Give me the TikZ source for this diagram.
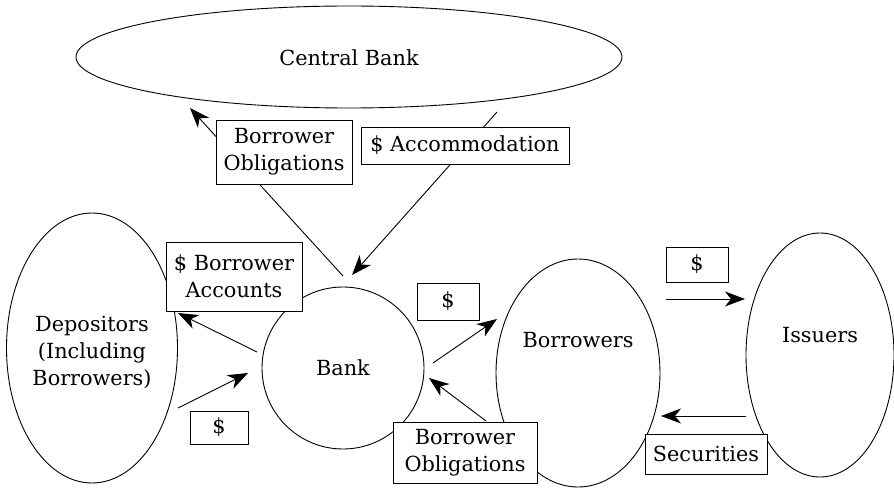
\documentclass[tikz,border=0pt]{standalone}
\usepackage{fontspec}
\setmainfont{DejaVu Serif}
\usetikzlibrary{shapes.geometric,arrows.meta}
\begin{document}
\begin{tikzpicture}[x=1pt,y=-1pt,
  every node/.style={font=\fontsize{20.8}{27}\selectfont},
  oval/.style={draw,ellipse,line width=0.9pt,inner sep=0pt,fill=white},
  lbl/.style={draw,line width=0.9pt,fill=white,inner sep=0pt,align=center},
  txt/.style={align=center,inner sep=0pt},
  arr/.style={line width=0.9pt,-{Stealth[length=20pt,width=15pt,inset=6pt]}}]
\useasboundingbox (0,0) rectangle (894,489);
% main shapes
\node[oval,minimum width=546pt,minimum height=102pt] (cb) at (349,57) {};
\node[txt] (cbt) at (349,58) {Central Bank};
\node[oval,minimum width=171pt,minimum height=270pt] (dep) at (92,348) {};
\node[txt] (dept) at (92,352) {Depositors\\(Including\\Borrowers)};
\node[draw,circle,line width=0.9pt,minimum size=162pt,inner sep=0pt] (bank) at (343,368) {};
\node[txt] (bankt) at (343,368) {Bank};
\node[oval,minimum width=164pt,minimum height=228pt] (bor) at (578,373) {};
\node[txt] (bort) at (578,340) {Borrowers};
\node[oval,minimum width=148pt,minimum height=244pt] (iss) at (820,355) {};
\node[txt] (isst) at (820,335) {Issuers};
% connector end points
\coordinate (a1s) at (343,276); \coordinate (a1e) at (190,108);
\coordinate (a2s) at (497,112); \coordinate (a2e) at (352,275);
\coordinate (a3s) at (257,352); \coordinate (a3e) at (178,313);
\coordinate (a4s) at (178,408); \coordinate (a4e) at (248,373);
\coordinate (a5s) at (433,363); \coordinate (a5e) at (497,319);
\coordinate (a6s) at (486,421); \coordinate (a6e) at (429,378);
\coordinate (a7s) at (666,299); \coordinate (a7e) at (745,299);
\coordinate (a8s) at (746,416); \coordinate (a8e) at (661,416);
\draw[arr] (a1s) -- (a1e);
\draw[arr] (a2s) -- (a2e);
\draw[arr] (a3s) -- (a3e);
\draw[arr] (a4s) -- (a4e);
\draw[arr] (a5s) -- (a5e);
\draw[arr] (a6s) -- (a6e);
\draw[arr] (a7s) -- (a7e);
\draw[arr] (a8s) -- (a8e);
% label boxes
\node[lbl,minimum width=136pt,minimum height=64pt] (bo1) at (284,152) {Borrower\\Obligations};
\node[lbl,minimum width=208pt,minimum height=37pt] (acc) at (465,145.5) {\$ Accommodation};
\node[lbl,minimum width=136pt,minimum height=69pt] (bacc) at (234,276.5) {\$ Borrower\\Accounts};
\node[lbl,minimum width=62pt,minimum height=37pt] (d1) at (448,301.5) {\$};
\node[lbl,minimum width=62pt,minimum height=35pt] (d2) at (697,264.5) {\$};
\node[lbl,minimum width=122pt,minimum height=40pt] (sec) at (706,454) {Securities};
\node[lbl,minimum width=144pt,minimum height=61pt] (bo2) at (465,452.5) {Borrower\\Obligations};
\node[lbl,minimum width=58pt,minimum height=33pt] (d3) at (219,427.5) {\$};
\end{tikzpicture}
\end{document}
